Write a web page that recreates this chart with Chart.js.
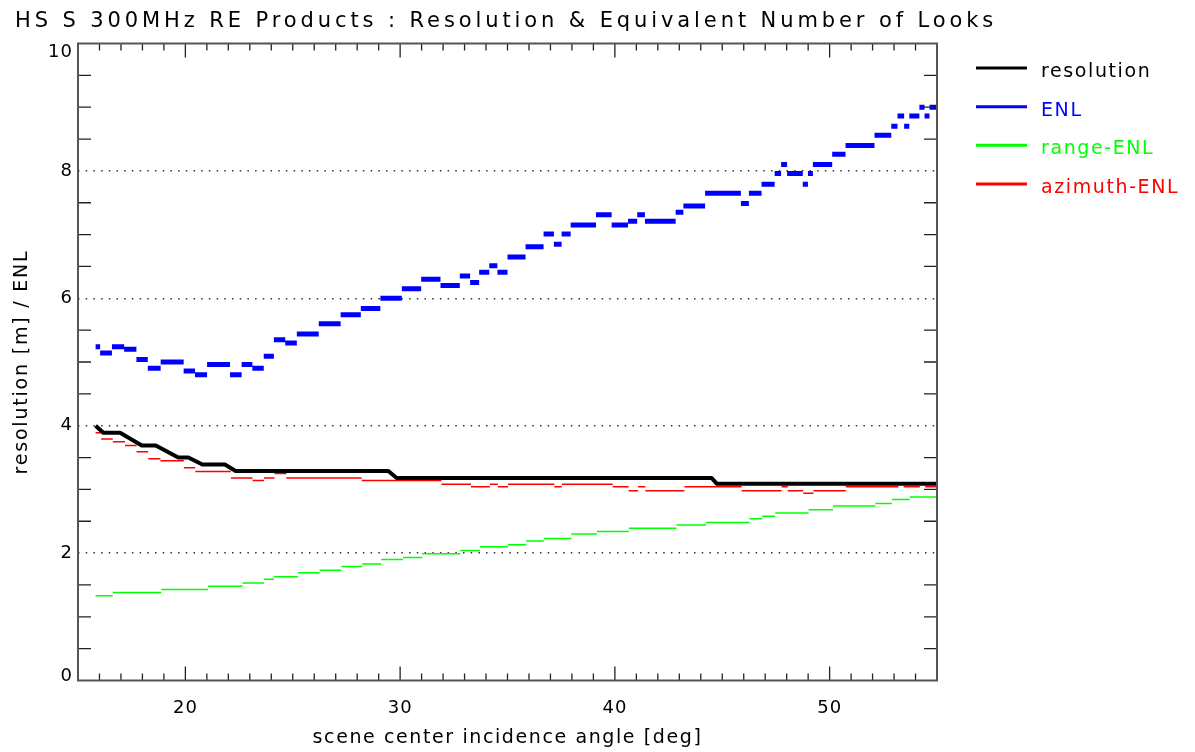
<!DOCTYPE html>
<html>
<head>
<meta charset="utf-8">
<title>HS S 300MHz RE Products</title>
<script src="https://cdn.jsdelivr.net/npm/chart.js@4.4.1/dist/chart.umd.min.js"></script>
<style>
  html, body { margin: 0; padding: 0; background: #fff; }
  canvas { display: block; }
</style>
</head>
<body>
<canvas id="myChart" width="1195" height="752"></canvas>
<script>
// incidence angle [deg] where each constant step begins/ends, and the step values
const enlEdges = [15.82, 16.03, 16.58, 17.15, 17.72, 18.25, 18.85, 19.92, 20.45, 21.01, 22.08,
	22.62, 23.12, 23.65, 24.12, 24.65, 25.19, 26.21, 27.23, 28.17, 29.08, 30.08, 30.98, 31.88,
	32.78, 33.26, 33.68, 34.15, 34.53, 35.0, 35.84, 36.68, 37.16, 37.52, 37.94, 39.12, 39.85,
	40.61, 41.04, 41.4, 42.83, 43.19, 44.2, 45.87, 46.24, 46.83, 47.44, 47.74, 48.02, 48.75,
	48.99, 49.22, 50.12, 50.74, 52.09, 52.87, 53.16, 53.47, 53.71, 54.18, 54.42, 54.65, 55.0];
const enlValues = [5.24, 5.14, 5.24, 5.2, 5.04, 4.9, 5.0, 4.86, 4.8, 4.96, 4.8, 4.96, 4.9, 5.09,
	5.35, 5.3, 5.44, 5.6, 5.74, 5.84, 6.0, 6.15, 6.3, 6.2, 6.35, 6.25, 6.41, 6.51, 6.41, 6.65,
	6.81, 7.01, 6.85, 7.01, 7.15, 7.31, 7.15, 7.21, 7.31, 7.21, 7.35, 7.45, 7.65, 7.49, 7.65,
	7.79, 7.96, 8.1, 7.96, 7.79, 7.96, 8.1, 8.26, 8.4, 8.56, 8.7, 8.86, 8.7, 8.86, 9.0, 8.86, 9.0];

const rangeEdges = [15.82, 16.62, 18.88, 21.05, 22.66, 23.66, 24.13, 25.24, 26.25, 27.27, 28.24,
	29.12, 30.14, 31.03, 32.8, 33.72, 35.02, 35.87, 36.69, 37.97, 39.16, 40.65, 42.87, 44.25,
	46.27, 46.86, 47.47, 49.02, 50.16, 52.13, 52.9, 53.73, 55.0];
const rangeValues = [1.33, 1.38, 1.43, 1.48, 1.53, 1.59, 1.63, 1.69, 1.73, 1.79, 1.83, 1.9, 1.93,
	1.99, 2.04, 2.1, 2.13, 2.19, 2.23, 2.3, 2.34, 2.39, 2.44, 2.48, 2.54, 2.58, 2.63, 2.68, 2.74,
	2.78, 2.84, 2.88];

const azimuthEdges = [15.82, 16.08, 16.62, 17.19, 17.73, 18.27, 18.84, 19.93, 20.46, 22.12, 23.13,
	23.66, 24.15, 24.7, 28.21, 31.92, 33.3, 34.18, 34.55, 35.02, 37.18, 37.53, 39.9, 40.64, 41.08,
	41.42, 43.24, 45.9, 47.76, 48.05, 48.77, 49.25, 50.75, 53.2, 53.45, 54.2, 54.45, 55.0];
const azimuthValues = [3.89, 3.79, 3.75, 3.69, 3.59, 3.48, 3.45, 3.34, 3.28, 3.18, 3.14, 3.18,
	3.25, 3.18, 3.14, 3.08, 3.04, 3.08, 3.04, 3.08, 3.04, 3.08, 3.04, 2.98, 3.04, 2.98, 3.04,
	2.98, 3.04, 2.98, 2.94, 2.98, 3.04, 3.09, 3.04, 3.09, 3.04];

const resolutionAngle = [15.82, 16.18, 16.96, 17.97, 18.62, 19.67, 20.14, 20.79, 21.84, 22.34,
	29.45, 29.84, 44.51, 44.74, 55.0];
const resolutionValue = [4.0, 3.89, 3.89, 3.69, 3.69, 3.5, 3.5, 3.39, 3.39, 3.29, 3.29, 3.18,
	3.18, 3.09, 3.09];

const xTickValues = [20, 30, 40, 50];
const yTickValues = [0, 2, 4, 6, 8, 10];

const titleText = "HS S 300MHz RE Products : Resolution & Equivalent Number of Looks";

// each step is its own piece of line, broken by a null point
const steps = (edges, values) => {
	const points = [];
	values.forEach((v, i) => {
		points.push({ x: edges[i], y: v }, { x: edges[i + 1], y: v }, { x: edges[i + 1], y: null });
	});
	return points;
};

// IDL style frame: box round the plot, ticks pointing inward on all four sides
const idlFrame = {
	id: "idlFrame",
	afterDatasetsDraw(chart) {
		const { ctx, chartArea: a } = chart;
		const { x, y } = chart.scales;
		ctx.save();
		ctx.strokeStyle = "#222";
		ctx.lineWidth = 1.3;
		ctx.beginPath();
		for (let v = 16; v < 55; v++) {
			const len = v % 10 === 0 ? 14 : 7;
			const px = x.getPixelForValue(v);
			ctx.moveTo(px, a.bottom);
			ctx.lineTo(px, a.bottom - len);
			ctx.moveTo(px, a.top);
			ctx.lineTo(px, a.top + len);
		}
		for (let v = 0.5; v < 10; v += 0.5) {
			if (v % 2 === 0) continue;
			const py = y.getPixelForValue(v);
			ctx.moveTo(a.left, py);
			ctx.lineTo(a.left + 13, py);
			ctx.moveTo(a.right, py);
			ctx.lineTo(a.right - 13, py);
		}
		ctx.stroke();
		ctx.strokeStyle = "#555";
		ctx.lineWidth = 2;
		ctx.strokeRect(a.left, a.top, a.right - a.left, a.bottom - a.top);
		ctx.restore();
	},
};

// wider letter spacing (the original uses a wide vector font), and the
// end labels of y kept inside the axis like IDL does
const textTweaks = {
	id: "textTweaks",
	beforeDraw(chart) {
		const wrap = (obj, fn, spacing) => {
			if (!obj || obj["_wrapped_" + fn]) return;
			const orig = obj[fn];
			obj[fn] = function (...args) {
				chart.ctx.save();
				chart.ctx.letterSpacing = spacing;
				orig.apply(this, args);
				chart.ctx.restore();
			};
			obj["_wrapped_" + fn] = true;
		};
		wrap(chart.titleBlock, "draw", "3.9px");
		wrap(chart.scales.x, "drawTitle", "1.6px");
		wrap(chart.scales.y, "drawTitle", "1.8px");
		wrap(chart.scales.x, "drawLabels", "1px");
		wrap(chart.scales.y, "drawLabels", "1px");

		const items = chart.scales.y.getLabelItems();
		if (!items._nudged) {
			items.forEach((it) => {
				if (it.label === "10") it.options.translation[1] += 9;
				if (it.label === "0") it.options.translation[1] -= 4.5;
			});
			items._nudged = true;
		}
	},
};

const legendBox = { x0: 976, x1: 1027, textX: 1041, top: 68, step: 38.67 };

const sideLegend = {
	id: "sideLegend",
	afterDraw(chart) {
		const ctx = chart.ctx;
		ctx.save();
		ctx.font = "19px 'DejaVu Sans'";
		ctx.letterSpacing = "1.6px";
		ctx.textBaseline = "alphabetic";
		chart.data.datasets.forEach((ds, i) => {
			const yy = legendBox.top + i * legendBox.step;
			ctx.strokeStyle = ds.borderColor;
			ctx.lineWidth = 3;
			ctx.beginPath();
			ctx.moveTo(legendBox.x0, yy);
			ctx.lineTo(legendBox.x1, yy);
			ctx.stroke();
			ctx.fillStyle = ds.borderColor;
			ctx.fillText(ds.label, legendBox.textX, yy + 9);
		});
		ctx.restore();
	},
};

Chart.defaults.font.family = "'DejaVu Sans'";
Chart.defaults.color = "#000";

new Chart(document.getElementById("myChart"), {
	type: "line",
	data: {
		datasets: [
			{
				label: "resolution",
				data: resolutionAngle.map((a, i) => ({ x: a, y: resolutionValue[i] })),
				borderColor: "#000000",
				borderWidth: 4,
				borderJoinStyle: "round",
				order: 0,
			},
			{
				label: "ENL",
				data: steps(enlEdges, enlValues),
				borderColor: "#0000ff",
				borderWidth: 5,
				order: 3,
			},
			{
				label: "range-ENL",
				data: steps(rangeEdges, rangeValues),
				borderColor: "#00ff00",
				borderWidth: 1.5,
				order: 2,
			},
			{
				label: "azimuth-ENL",
				data: steps(azimuthEdges, azimuthValues),
				borderColor: "#ff0000",
				borderWidth: 1.5,
				order: 1,
			},
		],
	},
	options: {
		responsive: false,
		animation: false,
		devicePixelRatio: 1,
		spanGaps: false,
		layout: { padding: { left: 15, right: 0, top: 0, bottom: 0 } },
		elements: {
			point: { radius: 0 },
			line: { tension: 0, borderCapStyle: "butt", fill: false },
		},
		plugins: {
			legend: { display: false },
			tooltip: { enabled: false },
			title: {
				display: true,
				text: titleText,
				align: "start",
				color: "#000",
				font: { size: 21, weight: "normal", lineHeight: 1.2 },
				padding: { top: 8.7, bottom: 9.6 },
			},
		},
		scales: {
			x: {
				type: "linear",
				min: 15,
				max: 55,
				afterBuildTicks: (scale) => {
					scale.ticks = xTickValues.map((v) => ({ value: v }));
				},
				afterFit: (scale) => {
					scale.height = 71.5;
				},
				grid: { display: false, drawTicks: false },
				border: { display: false },
				ticks: { padding: 17, font: { size: 18 }, maxRotation: 0, autoSkip: false },
				title: {
					display: true,
					text: "scene center incidence angle [deg]",
					font: { size: 19, lineHeight: 1 },
					padding: { bottom: 4.5 },
				},
			},
			y: {
				min: 0,
				max: 10,
				afterBuildTicks: (scale) => {
					scale.ticks = yTickValues.map((v) => ({ value: v }));
				},
				afterFit: (scale) => {
					scale.width = 63;
				},
				grid: {
					drawTicks: false,
					lineWidth: 1.5,
					color: (c) =>
						c.tick && (c.tick.value === 0 || c.tick.value === 10) ? "rgba(0,0,0,0)" : "#333",
				},
				border: { display: false, dash: [1.5, 6.2] },
				ticks: { padding: 5, font: { size: 18 } },
				title: {
					display: true,
					text: "resolution [m] / ENL",
					font: { size: 19, lineHeight: 1 },
					padding: { top: -2 },
				},
			},
			// empty right-hand axis, only keeps room for the legend
			side: {
				position: "right",
				afterFit: (scale) => {
					scale.width = 258;
				},
				grid: { display: false, drawTicks: false },
				border: { display: false },
				ticks: { display: false },
			},
		},
	},
	plugins: [textTweaks, idlFrame, sideLegend],
});
</script>
</body>
</html>
